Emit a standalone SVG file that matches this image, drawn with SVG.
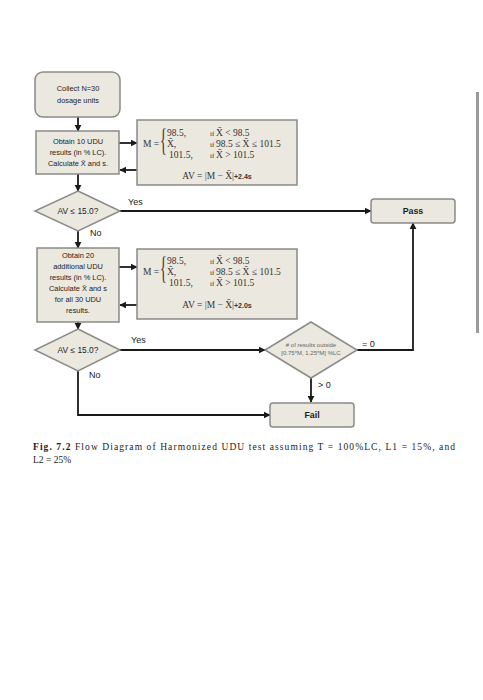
<svg xmlns="http://www.w3.org/2000/svg" width="483" height="700" viewBox="0 0 483 700">
<defs>
<marker id="ah" viewBox="0 0 10 10" refX="9" refY="5" markerWidth="4" markerHeight="4" orient="auto" markerUnits="strokeWidth">
<path d="M0,0 L10,5 L0,10 z" fill="#1a1a1a"/>
</marker>
<style>
.box{fill:#ebe8df;stroke:#8a8a88;stroke-width:1.5}
.t{font-family:"Liberation Sans",Arial,sans-serif;font-size:7.4px;fill:#222;text-anchor:middle}
.d{font-family:"Liberation Sans",Arial,sans-serif;font-size:8.4px;fill:#222;text-anchor:middle}
.b{font-family:"Liberation Sans",Arial,sans-serif;font-size:8.8px;font-weight:bold;fill:#222;text-anchor:middle}
.s{font-family:"Liberation Sans",Arial,sans-serif;font-size:6px;fill:#666;text-anchor:middle}
.lbl{font-family:"Liberation Sans",Arial,sans-serif;font-size:9px;fill:#222}
.f{font-family:"Liberation Serif","Times New Roman",serif;font-size:9.5px;fill:#333}
.fi{font-family:"Liberation Serif","Times New Roman",serif;font-size:7px;fill:#333}
.br{font-family:"Liberation Serif","Times New Roman",serif;font-size:14px;fill:#333}
.con{fill:none;stroke:#1a1a1a;stroke-width:1.8;marker-end:url(#ah)}
.cap{font-family:"Liberation Serif","Times New Roman",serif;font-size:9.5px;fill:#222}
</style>
</defs>
<rect width="483" height="700" fill="#ffffff"/>
<rect x="476" y="92" width="3" height="241" fill="#9a9a9a"/>

<g id="connectors">
<path class="con" d="M78,117 V131"/>
<path class="con" d="M119,143 H137"/>
<path class="con" d="M137,170 H120"/>
<path class="con" d="M78,174 V191"/>
<path class="con" d="M120,211 H371"/>
<path class="con" d="M78,231 V248"/>
<path class="con" d="M119,267 H137"/>
<path class="con" d="M137,305 H120"/>
<path class="con" d="M78,322 V329"/>
<path class="con" d="M120,350 H265"/>
<path class="con" d="M357,350 H413 V223"/>
<path class="con" d="M311,378 V402"/>
<path class="con" d="M78,371 V415 H270"/>
<text class="lbl" x="128" y="205">Yes</text>
<text class="lbl" x="90" y="236">No</text>
<text class="lbl" x="131" y="343">Yes</text>
<text class="lbl" x="89" y="378">No</text>
<text class="lbl" x="362" y="347">= 0</text>
<text class="lbl" x="318" y="388">&gt; 0</text>
</g>

<g id="collect">
<rect class="box" x="35" y="72" width="85" height="45" rx="8"/>
<text class="t" x="78" y="91">Collect N=30</text>
<text class="t" x="78" y="103">dosage units</text>
</g>

<g id="obtain10">
<rect class="box" x="36" y="131" width="83" height="43"/>
<text class="t" x="78" y="144">Obtain 10 UDU</text>
<text class="t" x="78" y="155">results (in % LC).</text>
<text class="t" x="78" y="166">Calculate X̄ and s.</text>
</g>

<g id="formula1">
<rect class="box" x="137" y="120" width="160" height="65"/>
<text class="f" x="143" y="147">M =</text>
<text class="br" x="0" y="0" transform="translate(160,151) scale(1,2.3)">{</text>
<text class="f" x="167" y="136">98.5,</text>
<text class="f" x="167" y="147">X̄,</text>
<text class="f" x="169" y="158">101.5,</text>
<text class="f" x="210" y="136"><tspan class="fi">if </tspan>X̄ &lt; 98.5</text>
<text class="f" x="210" y="147"><tspan class="fi">if </tspan>98.5 ≤ X̄ ≤ 101.5</text>
<text class="f" x="210" y="158"><tspan class="fi">if </tspan>X̄ &gt; 101.5</text>
<text class="f" x="217" y="179" text-anchor="middle">AV = |M − X̄|<tspan style="font-family:'Liberation Sans',Arial,sans-serif;font-weight:bold;font-size:7px">+2.4s</tspan></text>
</g>

<g id="decision1">
<polygon class="box" points="78,191 120,211 78,231 35,211"/>
<text class="d" x="78" y="214">AV ≤ 15.0?</text>
</g>

<g id="pass">
<rect class="box" x="371" y="199" width="84" height="24" rx="3"/>
<text class="b" x="413" y="214">Pass</text>
</g>

<g id="obtain20">
<rect class="box" x="37" y="248" width="82" height="74"/>
<text class="t" x="78" y="258">Obtain 20</text>
<text class="t" x="78" y="269">additional UDU</text>
<text class="t" x="78" y="280">results (in % LC).</text>
<text class="t" x="78" y="291">Calculate X̄ and s</text>
<text class="t" x="78" y="302">for all 30 UDU</text>
<text class="t" x="78" y="313">results.</text>
</g>

<g id="formula2">
<rect class="box" x="137" y="249" width="160" height="70"/>
<text class="f" x="143" y="275">M =</text>
<text class="br" x="0" y="0" transform="translate(160,279) scale(1,2.3)">{</text>
<text class="f" x="167" y="264">98.5,</text>
<text class="f" x="167" y="275">X̄,</text>
<text class="f" x="169" y="286">101.5,</text>
<text class="f" x="210" y="264"><tspan class="fi">if </tspan>X̄ &lt; 98.5</text>
<text class="f" x="210" y="275"><tspan class="fi">if </tspan>98.5 ≤ X̄ ≤ 101.5</text>
<text class="f" x="210" y="286"><tspan class="fi">if </tspan>X̄ &gt; 101.5</text>
<text class="f" x="217" y="308" text-anchor="middle">AV = |M − X̄|<tspan style="font-family:'Liberation Sans',Arial,sans-serif;font-weight:bold;font-size:7px">+2.0s</tspan></text>
</g>

<g id="decision2">
<polygon class="box" points="78,329 120,350 78,371 35,350"/>
<text class="d" x="78" y="353">AV ≤ 15.0?</text>
</g>

<g id="decision3">
<polygon class="box" points="311,322 357,350 311,378 265,350"/>
<text class="s" x="311" y="347">&#35; of results outside</text>
<text class="s" x="311" y="355">[0.75*M, 1.25*M] %LC</text>
</g>

<g id="fail">
<rect class="box" x="270" y="403" width="84" height="24" rx="3"/>
<text class="b" x="312" y="418">Fail</text>
</g>

<g id="caption">
<text class="cap" x="33" y="450" textLength="422" lengthAdjust="spacing"><tspan font-weight="bold">Fig. 7.2</tspan>  Flow Diagram of Harmonized UDU test assuming T = 100%LC, L1 = 15%, and</text>
<text class="cap" x="33" y="463">L2 = 25%</text>
</g>
</svg>
